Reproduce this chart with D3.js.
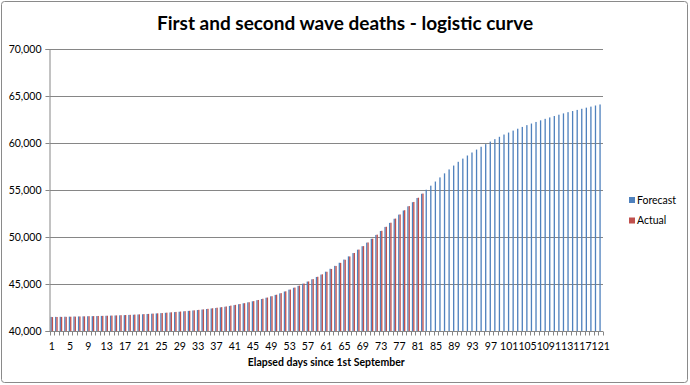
<!DOCTYPE html>
<html>
<head>
<meta charset="utf-8">
<script src="https://cdn.jsdelivr.net/npm/d3@7"></script>
<style>
  html, body { margin: 0; padding: 0; background: #fff; }
  svg { display: block; }
  text { font-family: Lato, "Open Sans", "DejaVu Sans", sans-serif; fill: #000; }
</style>
</head>
<body>
<svg id="chart" width="690" height="385"></svg>
<script>
// ---------------- data ----------------
const title = "First and second wave deaths - logistic curve";
const xTitle = "Elapsed days since 1st September";
const seriesNames = ["Forecast", "Actual"];
const seriesColors = ["#4F81BD", "#C0504D"];
const yTicks = [40000, 45000, 50000, 55000, 60000, 65000, 70000];
const xTickLabels = [1,5,9,13,17,21,25,29,33,37,41,45,49,53,57,61,65,69,73,77,81,85,89,93,97,101,105,109,113,117,121];

const forecast = [
  41500,41505,41510,41520,41530,41540,41550,41560,41570,41580,
  41590,41605,41620,41635,41650,41670,41690,41710,41730,41755,
  41780,41810,41840,41870,41900,41935,41970,42010,42050,42095,
  42140,42185,42230,42285,42340,42395,42450,42515,42580,42665,
  42750,42850,42950,43050,43160,43280,43400,43540,43690,43840,
  44000,44200,44400,44600,44800,45030,45260,45500,45750,46000,
  46310,46620,46930,47260,47600,47940,48290,48650,49020,49400,
  49810,50220,50640,51070,51500,51940,52380,52820,53260,53700,
  54150,54600,55030,55460,55900,56340,56770,57190,57600,58000,
  58340,58670,58990,59300,59600,59880,60150,60410,60660,60900,
  61110,61320,61520,61710,61900,62070,62240,62410,62570,62720,
  62870,63010,63150,63280,63400,63520,63640,63760,63870,63990,
  64100
];
const actual = [
  41480,41490,41500,41505,41520,41530,41545,41560,41575,41585,
  41600,41610,41625,41640,41660,41680,41700,41720,41745,41770,
  41795,41820,41850,41880,41910,41950,41990,42030,42070,42110,
  42150,42200,42250,42300,42360,42420,42480,42540,42610,42700,
  42780,42870,42960,43060,43180,43300,43430,43560,43700,43860,
  44030,44220,44410,44620,44830,45050,45270,45520,45770,46030,
  46300,46600,46920,47250,47580,47930,48300,48660,49030,49420,
  49820,50250,50660,51090,51520,51960,52400,52850,53290,53730,
  54180,54620
];
const days = forecast.map((_, i) => i + 1);

// ---------------- layout ----------------
const svg = d3.select("#chart");
const plot = { left: 49.5, right: 603, top: 49, bottom: 331 };

svg.append("rect")
  .attr("x", 1.5).attr("y", 1.5).attr("width", 686).attr("height", 381)
  .attr("rx", 3).attr("fill", "#fff").attr("stroke", "#8a8a8a").attr("stroke-width", 1);

const x = d3.scaleBand().domain(days).range([plot.left, plot.right]).padding(0);
const y = d3.scaleLinear().domain([40000, 70000]).range([plot.bottom, plot.top]);

// gridlines
svg.append("g").selectAll("line").data(yTicks.slice(1)).join("line")
  .attr("x1", plot.left).attr("x2", plot.right)
  .attr("y1", d => Math.round(y(d)) + 0.5).attr("y2", d => Math.round(y(d)) + 0.5)
  .attr("stroke", "#868686").attr("stroke-width", 1);

// bars
const bw = x.bandwidth() / 3.5;
const gBars = svg.append("g");
gBars.selectAll("rect.f").data(forecast).join("rect")
  .attr("class", "f")
  .attr("x", (d, i) => x(days[i]) + x.bandwidth() / 2 - bw)
  .attr("y", d => y(d))
  .attr("width", bw)
  .attr("height", d => plot.bottom - y(d))
  .attr("fill", seriesColors[0]);
gBars.selectAll("rect.a").data(actual).join("rect")
  .attr("class", "a")
  .attr("x", (d, i) => x(days[i]) + x.bandwidth() / 2)
  .attr("y", d => y(d))
  .attr("width", bw)
  .attr("height", d => plot.bottom - y(d))
  .attr("fill", seriesColors[1]);

// y axis
const yAxis = d3.axisLeft(y).tickValues(yTicks).tickSize(4).tickFormat(d3.format(","));
const gy = svg.append("g").attr("transform", `translate(${plot.left},0)`).call(yAxis);
gy.select(".domain").attr("stroke", "#868686");
gy.selectAll(".tick line").attr("stroke", "#868686");
gy.selectAll(".tick text").attr("font-size", 10.5).attr("x", -8)
  .style("font-family", "Lato, 'Open Sans', sans-serif");

// x axis
const gx = svg.append("g").attr("transform", `translate(0,${plot.bottom + 0.5})`);
gx.append("line").attr("x1", plot.left).attr("x2", plot.right)
  .attr("stroke", "#868686");
const bounds = days.map(d => x(d)).concat([plot.right]);
gx.selectAll("line.tk").data(bounds).join("line").attr("class", "tk")
  .attr("x1", d => Math.round(d) + 0.5).attr("x2", d => Math.round(d) + 0.5)
  .attr("y1", 0).attr("y2", 4).attr("stroke", "#868686");
gx.selectAll("text").data(xTickLabels).join("text")
  .attr("x", d => x(d) + x.bandwidth() / 2)
  .attr("y", 18)
  .attr("text-anchor", "middle")
  .attr("font-size", 10.5)
  .text(d => d);

// titles
svg.append("text").attr("x", 345).attr("y", 30).attr("text-anchor", "middle")
  .attr("font-size", 19).attr("font-weight", "bold").text(title);
svg.append("text").attr("x", (plot.left + plot.right) / 2).attr("y", 366)
  .attr("text-anchor", "middle").attr("font-size", 10.5).attr("font-weight", "bold").text(xTitle);

// legend
const lg = svg.append("g").attr("transform", "translate(629,0)");
seriesNames.forEach((name, i) => {
  const cy = 200 + i * 20.5;
  lg.append("rect").attr("x", 0).attr("y", cy - 3).attr("width", 6).attr("height", 6)
    .attr("fill", seriesColors[i]);
  lg.append("text").attr("x", 8).attr("y", cy + 3.5).attr("font-size", 10.5).text(name);
});
</script>
</body>
</html>
